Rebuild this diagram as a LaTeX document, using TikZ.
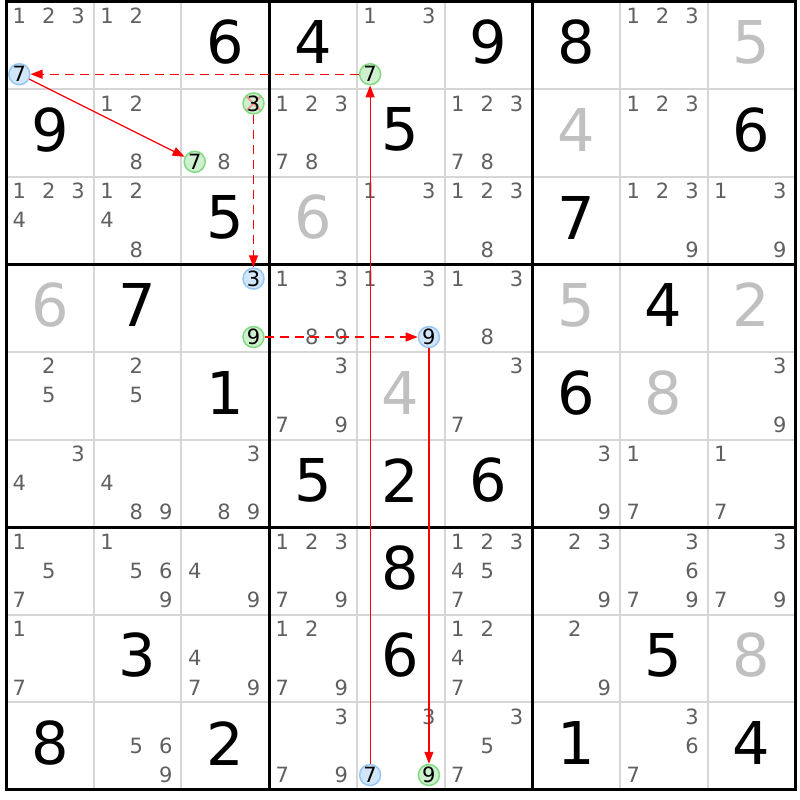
\documentclass[tikz,border=0pt]{standalone}
\usepackage{fontspec}
\setmainfont{DejaVu Sans}
\usetikzlibrary{arrows.meta}
\definecolor{candgray}{RGB}{96,96,96}
\definecolor{solvedgray}{RGB}{192,192,192}
\definecolor{thingrid}{RGB}{214,214,214}
\definecolor{bluefill}{RGB}{210,230,250}
\definecolor{blueline}{RGB}{150,198,245}
\definecolor{greenfill}{RGB}{206,240,206}
\definecolor{greenline}{RGB}{130,218,130}
\definecolor{linkred}{RGB}{255,0,0}
\definecolor{xred}{RGB}{255,140,140}
\tikzset{
  cand/.style={font=\fontsize{21}{21}\selectfont, text=candgray, inner sep=0pt},
  given/.style={font=\fontsize{59}{59}\selectfont, text=black, inner sep=0pt},
  solved/.style={given, text=solvedgray},
  circbase/.style={circle, inner sep=0pt, minimum size=21pt, line width=1.5pt,
    font=\fontsize{21}{21}\selectfont, text=black},
  bluec/.style={circbase, fill=bluefill, draw=blueline},
  greenc/.style={circbase, fill=greenfill, draw=greenline},
  elimc/.style={greenc, path picture={
    \draw[xred, line width=1.6pt]
      (path picture bounding box.south west) -- (path picture bounding box.north east)
      (path picture bounding box.north west) -- (path picture bounding box.south east);}},
  thinline/.style={draw=thingrid, line width=2pt},
  thickline/.style={draw=black, line width=3pt},
  link/.style={draw=linkred, color=linkred, line width=1.2pt, -{Triangle[length=12pt,width=9pt]}},
  weaklink/.style={link, line width=1.4pt, dash pattern=on 9pt off 6pt},
}
\newcommand\ccands[3]{\foreach \d in {#3}{\node[cand] (n#1#2\d) at ({6+(#2-1)*87.7+13.3+29.4*mod(\d-1,3)},{1.5+(#1-1)*87.6+14.3+29.2*floor((\d-1)/3)}) {\d};}}
\newcommand\ccirc[4]{\node[#4] (n#1#2#3) at ({6+(#2-1)*87.7+13.3+29.4*mod(#3-1,3)},{1.5+(#1-1)*87.6+14.3+29.2*floor((#3-1)/3)}) {#3};}
\newcommand\cgiven[3]{\node[given] (g#1#2) at ({6+(#2-0.5)*87.7},{1.5+(#1-0.5)*87.6-3}) {#3};}
\newcommand\csolved[3]{\node[solved] (g#1#2) at ({6+(#2-0.5)*87.7},{1.5+(#1-0.5)*87.6-3}) {#3};}
\begin{document}
\begin{tikzpicture}[x=1pt,y=-1pt]
\fill[white] (0,0) rectangle (800,800);
\useasboundingbox (0,0) rectangle (800,800);
% grid
\foreach \i in {1,2,4,5,7,8}{
  \draw[thinline] ({6+\i*87.7},1.5) -- ({6+\i*87.7},789.9);
  \draw[thinline] (6,{1.5+\i*87.6}) -- (795.3,{1.5+\i*87.6});
}
\foreach \i in {0,3,6,9}{
  \draw[thickline] ({6+\i*87.7},0) -- ({6+\i*87.7},791.4);
  \draw[thickline] (4.5,{1.5+\i*87.6}) -- (796.8,{1.5+\i*87.6});
}
% row 1
\ccands{1}{1}{1,2,3} \ccirc{1}{1}{7}{bluec} \ccands{1}{2}{1,2} \cgiven{1}{3}{6}
\cgiven{1}{4}{4} \ccands{1}{5}{1,3} \ccirc{1}{5}{7}{greenc} \cgiven{1}{6}{9}
\cgiven{1}{7}{8} \ccands{1}{8}{1,2,3} \csolved{1}{9}{5}
% row 2
\cgiven{2}{1}{9} \ccands{2}{2}{1,2,8} \ccirc{2}{3}{3}{elimc} \ccirc{2}{3}{7}{greenc} \ccands{2}{3}{8}
\ccands{2}{4}{1,2,3,7,8} \cgiven{2}{5}{5} \ccands{2}{6}{1,2,3,7,8}
\csolved{2}{7}{4} \ccands{2}{8}{1,2,3} \cgiven{2}{9}{6}
% row 3
\ccands{3}{1}{1,2,3,4} \ccands{3}{2}{1,2,4,8} \cgiven{3}{3}{5}
\csolved{3}{4}{6} \ccands{3}{5}{1,3} \ccands{3}{6}{1,2,3,8}
\cgiven{3}{7}{7} \ccands{3}{8}{1,2,3,9} \ccands{3}{9}{1,3,9}
% row 4
\csolved{4}{1}{6} \cgiven{4}{2}{7} \ccirc{4}{3}{3}{bluec} \ccirc{4}{3}{9}{greenc}
\ccands{4}{4}{1,3,8,9} \ccands{4}{5}{1,3} \ccirc{4}{5}{9}{bluec} \ccands{4}{6}{1,3,8}
\csolved{4}{7}{5} \cgiven{4}{8}{4} \csolved{4}{9}{2}
% row 5
\ccands{5}{1}{2,5} \ccands{5}{2}{2,5} \cgiven{5}{3}{1}
\ccands{5}{4}{3,7,9} \csolved{5}{5}{4} \ccands{5}{6}{3,7}
\cgiven{5}{7}{6} \csolved{5}{8}{8} \ccands{5}{9}{3,9}
% row 6
\ccands{6}{1}{3,4} \ccands{6}{2}{4,8,9} \ccands{6}{3}{3,8,9}
\cgiven{6}{4}{5} \cgiven{6}{5}{2} \cgiven{6}{6}{6}
\ccands{6}{7}{3,9} \ccands{6}{8}{1,7} \ccands{6}{9}{1,7}
% row 7
\ccands{7}{1}{1,5,7} \ccands{7}{2}{1,5,6,9} \ccands{7}{3}{4,9}
\ccands{7}{4}{1,2,3,7,9} \cgiven{7}{5}{8} \ccands{7}{6}{1,2,3,4,5,7}
\ccands{7}{7}{2,3,9} \ccands{7}{8}{3,6,7,9} \ccands{7}{9}{3,7,9}
% row 8
\ccands{8}{1}{1,7} \cgiven{8}{2}{3} \ccands{8}{3}{4,7,9}
\ccands{8}{4}{1,2,7,9} \cgiven{8}{5}{6} \ccands{8}{6}{1,2,4,7}
\ccands{8}{7}{2,9} \cgiven{8}{8}{5} \csolved{8}{9}{8}
% row 9
\cgiven{9}{1}{8} \ccands{9}{2}{5,6,9} \cgiven{9}{3}{2}
\ccands{9}{4}{3,7,9} \ccands{9}{5}{3} \ccirc{9}{5}{7}{bluec} \ccirc{9}{5}{9}{greenc}
\ccands{9}{6}{3,5,7} \cgiven{9}{7}{1} \ccands{9}{8}{3,6,7} \cgiven{9}{9}{4}
% links
\draw[weaklink] (n157) -- (n117);
\draw[link] (n117) -- (n237);
\draw[weaklink] (n233) -- (n433);
\draw[weaklink] (n439) -- (n459);
\draw[link] (n459) -- (n959);
\draw[link] (n957) -- (n157);
\end{tikzpicture}
\end{document}
